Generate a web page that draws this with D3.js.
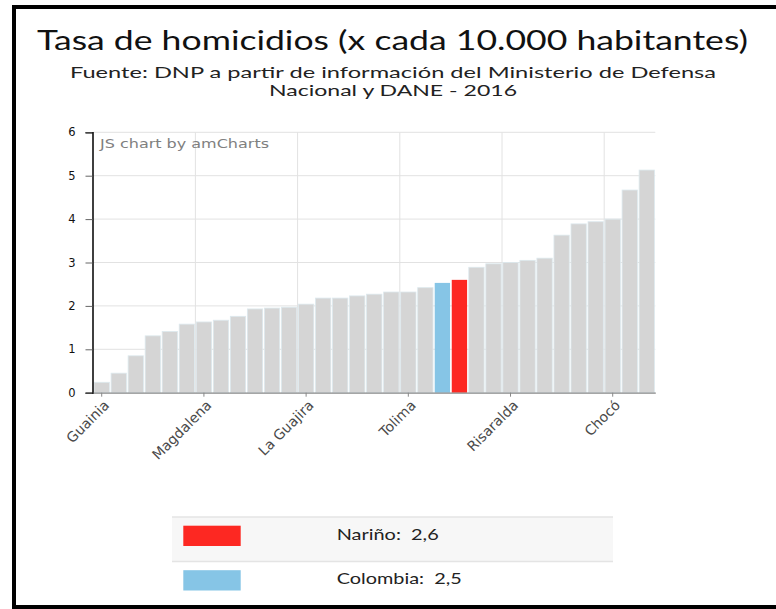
<!DOCTYPE html>
<html>
<head>
<meta charset="utf-8">
<script src="https://cdn.jsdelivr.net/npm/d3@7"></script>
<style>
  html, body { margin: 0; padding: 0; background: #fff; }
  svg { display: block; }
</style>
</head>
<body>
<svg id="chart" width="776" height="609"></svg>
<script>
// ---------- DATA ----------
const categories = [
  "Guainia", "Vaupés", "Boyacá", "Sucre", "Amazonas", "Córdoba",
  "Magdalena", "Santander", "Cundinamarca", "Bogotá D.C.", "Bolívar", "Vichada",
  "La Guajira", "Casanare", "Huila", "Cesar", "Caldas", "San Andrés",
  "Tolima", "Antioquia", "Colombia", "Nariño", "Atlántico", "Caquetá",
  "Risaralda", "Meta", "Norte de Santander", "Guaviare", "Putumayo", "Quindío",
  "Chocó", "Cauca", "Valle del Cauca"
];
const values = [
  0.24, 0.45, 0.85, 1.31, 1.41, 1.58,
  1.63, 1.67, 1.76, 1.93, 1.95, 1.97,
  2.04, 2.18, 2.18, 2.23, 2.27, 2.32,
  2.32, 2.42, 2.53, 2.60, 2.89, 2.97,
  3.00, 3.05, 3.10, 3.63, 3.89, 3.94,
  4.00, 4.67, 5.13
];
const yTicks = [0, 1, 2, 3, 4, 5, 6];
const legendNames = ["Nariño", "Colombia"];
const legendValues = ["2,6", "2,5"];

const titleText = "Tasa de homicidios (x cada 10.000 habitantes)";
const subtitleLines = [
  "Fuente: DNP a partir de información del Ministerio de Defensa",
  "Nacional y DANE - 2016"
];
const watermark = "JS chart by amCharts";

// ---------- STYLE ----------
const highlightColor = { "Nariño": "#fd2822", "Colombia": "#86c5e6" };
const barGray = "#d5d5d5";
const geoFont = "Lato, 'Noto Sans', sans-serif";
const axisFont = "'DejaVu Sans', Verdana, sans-serif";

const svg = d3.select("#chart");

// outer frame
svg.append("rect")
  .attr("x", 14).attr("y", 7)
  .attr("width", 820).attr("height", 600)
  .attr("fill", "none").attr("stroke", "#000").attr("stroke-width", 4);

function fit(sel, w) {
  sel.attr("textLength", w).attr("lengthAdjust", "spacingAndGlyphs");
}

// title
svg.append("text")
  .attr("x", 392.5).attr("y", 50)
  .attr("text-anchor", "middle")
  .attr("font-family", geoFont).attr("font-size", 26)
  .attr("fill", "#111")
  .text(titleText)
  .call(fit, 711);

const subW = [646, 248];
const subY = [78, 96];
subtitleLines.forEach((t, i) => {
  svg.append("text")
    .attr("x", 393).attr("y", subY[i])
    .attr("text-anchor", "middle")
    .attr("font-family", geoFont).attr("font-size", 16)
    .attr("fill", "#222")
    .text(t)
    .call(fit, subW[i]);
});

// ---------- SCALES ----------
const x = d3.scaleBand()
  .domain(categories)
  .range([93.2, 655.3])
  .paddingInner(0.1)
  .paddingOuter(0.05);

const y = d3.scaleLinear().domain([0, 6]).range([392.7, 132.3]);

const plot = svg.append("g");

// horizontal grid
plot.append("g").selectAll("line")
  .data(yTicks.filter(d => d > 0))
  .join("line")
  .attr("x1", x.range()[0]).attr("x2", x.range()[1])
  .attr("y1", d => y(d)).attr("y2", d => y(d))
  .attr("stroke", "#e2e2e2").attr("stroke-width", 1);

// vertical grid at labelled categories (band boundaries)
const labelled = categories.filter((d, i) => i % 6 === 0);
plot.append("g").selectAll("line")
  .data(labelled.slice(1))
  .join("line")
  .attr("x1", d => x(d) - x.step() * x.paddingInner() / 2)
  .attr("x2", d => x(d) - x.step() * x.paddingInner() / 2)
  .attr("y1", y(6)).attr("y2", y(0))
  .attr("stroke", "#e2e2e2").attr("stroke-width", 1);

// bars
plot.append("g").selectAll("rect")
  .data(categories.map((c, i) => ({ c, v: values[i] })))
  .join("rect")
  .attr("x", d => x(d.c))
  .attr("width", x.bandwidth())
  .attr("y", d => y(d.v))
  .attr("height", d => y(0) - y(d.v))
  .attr("fill", d => highlightColor[d.c] || barGray)
  .attr("stroke", "#dde9ee")
  .attr("stroke-opacity", d => highlightColor[d.c] ? 0.0 : 1)
  .attr("stroke-width", 0.8);

// watermark
svg.append("text")
  .attr("x", 100).attr("y", 147.5)
  .attr("font-family", axisFont).attr("font-size", 12)
  .attr("fill", "#808080")
  .text(watermark)
  .call(fit, 169);

// ---------- AXES ----------
const yAxis = svg.append("g")
  .attr("transform", `translate(${92.5},0)`)
  .call(d3.axisLeft(y).tickValues(yTicks).tickSize(7).tickPadding(10).tickFormat(d3.format("d")));
yAxis.select(".domain").attr("stroke", "#000").attr("stroke-width", 1.5);
yAxis.selectAll(".tick line").attr("stroke", "#666");
yAxis.selectAll("text")
  .attr("font-family", axisFont).attr("font-size", 11.5)
  .attr("fill", "#111");

const xAxis = svg.append("g")
  .attr("transform", `translate(0,${y(0)})`)
  .call(d3.axisBottom(x).tickValues(labelled).tickSize(4).tickSizeOuter(0));
xAxis.select(".domain").attr("stroke", "#888").attr("stroke-width", 1.2);
xAxis.selectAll(".tick line").attr("stroke", "#888");
xAxis.selectAll("text")
  .attr("font-family", axisFont).attr("font-size", 14)
  .attr("fill", "#4a4a4a")
  .attr("text-anchor", "end")
  .attr("x", 0).attr("y", 0)
  .attr("dy", "0.35em")
  .attr("transform", "translate(5,10) rotate(-45)");

// ---------- LEGEND ----------
const lg = svg.append("g");
const rowTop = [517, 561.5];
const rowH = 44.5;
lg.append("rect")
  .attr("x", 172).attr("y", rowTop[0])
  .attr("width", 441).attr("height", rowH)
  .attr("fill", "#f7f7f7");
rowTop.forEach(t => {
  lg.append("line")
    .attr("x1", 172).attr("x2", 613)
    .attr("y1", t).attr("y2", t)
    .attr("stroke", "#e4e4e4").attr("stroke-width", 1.5);
});
const legW = [102, 125];
legendNames.forEach((n, i) => {
  lg.append("rect")
    .attr("x", 183.3).attr("y", rowTop[i] + 8.7)
    .attr("width", 57.4).attr("height", 20.3)
    .attr("fill", highlightColor[n]);
  lg.append("text")
    .attr("x", 336.7).attr("y", rowTop[i] + 22.5)
    .attr("font-family", geoFont).attr("font-size", 15)
    .attr("fill", "#222")
    .attr("xml:space", "preserve")
    .text(n + ":  " + legendValues[i])
    .call(fit, legW[i]);
});
</script>
</body>
</html>
